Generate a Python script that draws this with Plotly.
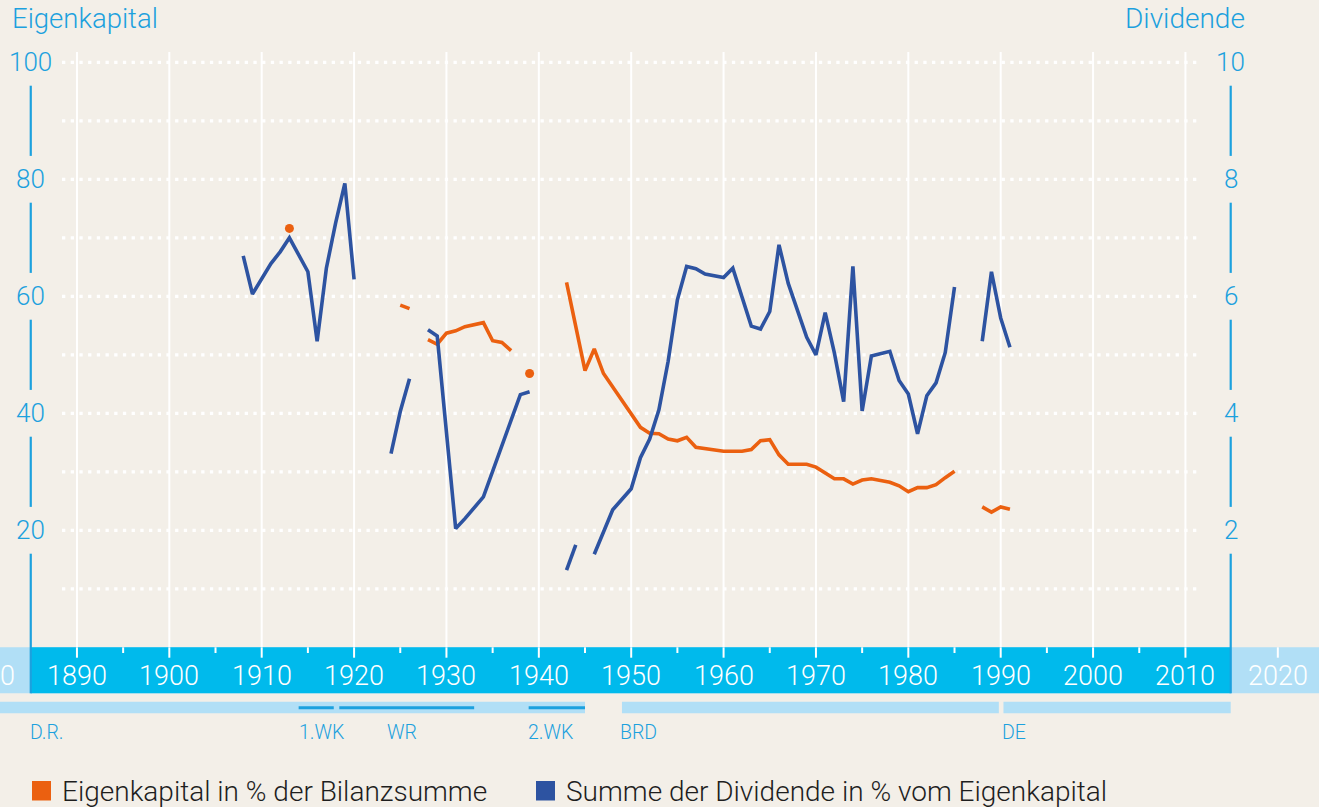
import plotly.graph_objects as go

# ---------------- data ----------------
# Eigenkapital in % der Bilanzsumme (left axis, 0-100); None = gap
eig_years = [1913, None,
             1925, 1926, None,
             1928, 1929, 1930, 1931, 1932, 1934, 1935, 1936, 1937, None,
             1939, None,
             1943, 1945, 1946, 1947, 1951, 1952, 1953, 1954, 1955, 1956, 1957, 1958,
             1960, 1961, 1962, 1963, 1964, 1965, 1966, 1967, 1969, 1970, 1971, 1972,
             1973, 1974, 1975, 1976, 1978, 1979, 1980, 1981, 1982, 1983, 1984, 1985, None,
             1988, 1989, 1990, 1991]
eig_values = [71.6, None,
              58.5, 57.9, None,
              52.6, 51.8, 53.7, 54.1, 54.8, 55.5, 52.4, 52.1, 50.7, None,
              46.8, None,
              62.4, 47.3, 51.0, 46.8, 37.6, 36.6, 36.5, 35.6, 35.3, 35.9, 34.2, 34.0,
              33.5, 33.5, 33.5, 33.8, 35.3, 35.5, 32.9, 31.3, 31.3, 30.8, 29.8, 28.8,
              28.8, 27.9, 28.6, 28.8, 28.2, 27.6, 26.6, 27.3, 27.3, 27.8, 29.0, 30.1, None,
              24.0, 23.1, 24.0, 23.6]

# Summe der Dividende in % vom Eigenkapital (right axis, 0-10)
div_years = [1908, 1909, 1911, 1912, 1913, 1915, 1916, 1917, 1918, 1919, 1920, None,
             1924, 1925, 1926, None,
             1928, 1929, 1931, 1932, 1934, 1938, 1939, None,
             1943, 1944, None,
             1946, 1947, 1948, 1950, 1951, 1952, 1953, 1954, 1955, 1956, 1957, 1958,
             1960, 1961, 1962, 1963, 1964, 1965, 1966, 1967, 1969, 1970, 1971, 1972,
             1973, 1974, 1975, 1976, 1978, 1979, 1980, 1981, 1982, 1983, 1984, 1985, None,
             1988, 1989, 1990, 1991]
div_values = [6.69, 6.04, 6.56, 6.76, 7.00, 6.42, 5.23, 6.48, 7.25, 7.93, 6.29, None,
              3.31, 4.03, 4.59, None,
              5.43, 5.32, 2.03, 2.20, 2.57, 4.32, 4.37, None,
              1.32, 1.75, None,
              1.59, 1.98, 2.35, 2.71, 3.24, 3.56, 4.06, 4.89, 5.94, 6.51, 6.47, 6.38,
              6.32, 6.48, 6.00, 5.49, 5.44, 5.74, 6.88, 6.22, 5.30, 5.00, 5.72, 5.03,
              4.20, 6.51, 4.04, 4.98, 5.06, 4.56, 4.33, 3.65, 4.30, 4.52, 5.04, 6.16, None,
              5.23, 6.42, 5.63, 5.13]

left_ticks = [20, 40, 60, 80, 100]
right_ticks = [2, 4, 6, 8, 10]
year_ticks = [1880, 1890, 1900, 1910, 1920, 1930, 1940, 1950, 1960, 1970,
              1980, 1990, 2000, 2010, 2020]

era_bars = [("D.R.", None, 1945.0), ("BRD", 1949.0, 1989.8), ("DE", 1990.3, 2014.9)]
era_lines = [("1.WK", 1914.0, 1917.8), ("WR", 1918.4, 1933.0), ("2.WK", 1938.9, 1945.0)]
era_labels = ["D.R.", "1.WK", "WR", "2.WK", "BRD", "DE"]
era_label_years = [1884.7, 1913.8, 1923.3, 1938.6, 1948.6, 1989.9]

series_names = ["Eigenkapital in % der Bilanzsumme",
                "Summe der Dividende in % vom Eigenkapital"]

# ---------------- style ----------------
W, H = 1319, 807
BG = "#F3EFE8"
ORANGE = "#EB6010"
BLUE = "#2D53A1"
AXIS_BLUE = "#1CA1DE"
BAND = "#00BAEC"
BAND_LIGHT = "#B1DFF6"
FONT = "Roboto"
WEIGHT = 300

PX_PER_YEAR = 9.2375
PX_PER_UNIT = 5.85
ZERO_ROW = 647.3
X0 = 1890 - 76.95 / PX_PER_YEAR
X1 = X0 + W / PX_PER_YEAR
Y1 = ZERO_ROW / PX_PER_UNIT
Y0 = -(H - ZERO_ROW) / PX_PER_UNIT
AX_L, AX_R = 1885.0, 2014.9


def row(p):
    """pixel row -> left axis value"""
    return (ZERO_ROW - p) / PX_PER_UNIT


def col(p):
    """pixel column -> year"""
    return X0 + p / PX_PER_YEAR


def isolated(years, vals):
    xs, ys = [], []
    for i, v in enumerate(vals):
        prev_none = i == 0 or vals[i - 1] is None
        next_none = i == len(vals) - 1 or vals[i + 1] is None
        if v is not None and prev_none and next_none:
            xs.append(years[i])
            ys.append(v)
    return xs, ys


fig = go.Figure()

fig.add_trace(go.Scatter(
    x=eig_years, y=eig_values, mode="lines", name=series_names[0],
    line=dict(color=ORANGE, width=3.6), connectgaps=False,
    yaxis="y", hoverinfo="x+y"))
iso_x, iso_y = isolated(eig_years, eig_values)
fig.add_trace(go.Scatter(
    x=iso_x, y=iso_y, mode="markers", name=series_names[0],
    marker=dict(color=ORANGE, size=9, line=dict(width=0)),
    yaxis="y", hoverinfo="x+y"))
fig.add_trace(go.Scatter(
    x=div_years, y=div_values, mode="lines", name=series_names[1],
    line=dict(color=BLUE, width=3.6), connectgaps=False,
    yaxis="y2", hoverinfo="x+y"))

shapes = []


def rect(x0, x1, y0, y1, color):
    shapes.append(dict(type="rect", xref="x", yref="y", x0=x0, x1=x1, y0=y0, y1=y1,
                       fillcolor=color, line=dict(width=0), layer="below"))


def seg(x0, y0, x1, y1, color, width, dash=None):
    ln = dict(color=color, width=width)
    if dash:
        ln["dash"] = dash
    shapes.append(dict(type="line", xref="x", yref="y", x0=x0, x1=x1, y0=y0, y1=y1,
                       line=ln, layer="below"))


# horizontal dotted grid
for v in range(10, 101, 10):
    seg(col(62), v, col(1198), v, "white", 3.3, dash="3.3px,5.4px")
# vertical grid
for yr in range(1890, 2011, 10):
    seg(yr, 0, yr, row(52), "white", 2)

# bottom year band
rect(X0, X1, row(693.3), 0, BAND_LIGHT)
rect(AX_L, AX_R, row(693.3), 0, BAND)
for yr in range(1880, 2025, 5):
    if yr in (1885, 2015):
        continue
    if yr % 10 == 0:
        seg(yr, 0, yr, row(657.7), "white", 2)
    else:
        seg(yr, 0, yr, row(653), "white", 2)

# era bars
for name, a, b in era_bars:
    rect(X0 if a is None else a, b, row(713.3), row(701.7), BAND_LIGHT)
for name, a, b in era_lines:
    seg(a, row(707.7), b, row(707.7), AXIS_BLUE, 3)

# axis lines broken by labels
gap = 4.0
for xa in (AX_L, AX_R):
    for hi, lo in zip([100, 80, 60, 40], [80, 60, 40, 20]):
        seg(xa, hi - gap, xa, lo + gap, AXIS_BLUE, 2.2)
    seg(xa, 20 - gap, xa, row(693.3), AXIS_BLUE, 2.2)

# legend squares
rect(col(32), col(51), row(800.5), row(781), ORANGE)
rect(col(536), col(555), row(800.5), row(781), BLUE)

ann = []


def text(x, y, s, size, color, xanchor="center", xref="x", weight=WEIGHT):
    ann.append(dict(x=x, y=y, xref=xref, yref="y", text=s, showarrow=False,
                    xanchor=xanchor, yanchor="middle",
                    font=dict(family=FONT, size=size, color=color, weight=weight)))


for v in left_ticks:
    text(AX_L, v, str(v), 26, AXIS_BLUE)
for v in right_ticks:
    text(AX_R, v * 10, str(v), 26, AXIS_BLUE)

for yr in year_ticks:
    if yr < X0:
        ann.append(dict(x=(yr - X0) / (X1 - X0), y=row(676), xref="paper", yref="y",
                        text=str(yr), showarrow=False, xanchor="center", yanchor="middle",
                        font=dict(family=FONT, size=27, color="white", weight=WEIGHT)))
    else:
        text(yr, row(676), str(yr), 27, "white")

for s, yr in zip(era_labels, era_label_years):
    text(yr, row(732.5), s, 19.5, AXIS_BLUE, xanchor="left")

text(col(10), row(18), "Eigenkapital", 27.5, AXIS_BLUE, xanchor="left")
text(col(1247), row(18), "Dividende", 28, AXIS_BLUE, xanchor="right")

text(col(60), row(791.5), series_names[0], 28, "#1E1E1E", xanchor="left")
text(col(564), row(791.5), series_names[1], 28, "#1E1E1E", xanchor="left")

fig.update_layout(
    width=W, height=H,
    margin=dict(l=0, r=0, t=0, b=0),
    paper_bgcolor=BG, plot_bgcolor=BG,
    showlegend=False,
    xaxis=dict(range=[X0, X1], visible=False, fixedrange=True),
    yaxis=dict(range=[Y0, Y1], visible=False, fixedrange=True),
    yaxis2=dict(range=[Y0 / 10, Y1 / 10], visible=False, overlaying="y", fixedrange=True),
    shapes=shapes, annotations=ann,
)

fig.write_html(
    "out.html",
    config={"displayModeBar": False},
    post_script="document.body.style.margin='0';document.body.style.overflow='hidden';"
                "document.body.style.background='" + BG + "';",
)
